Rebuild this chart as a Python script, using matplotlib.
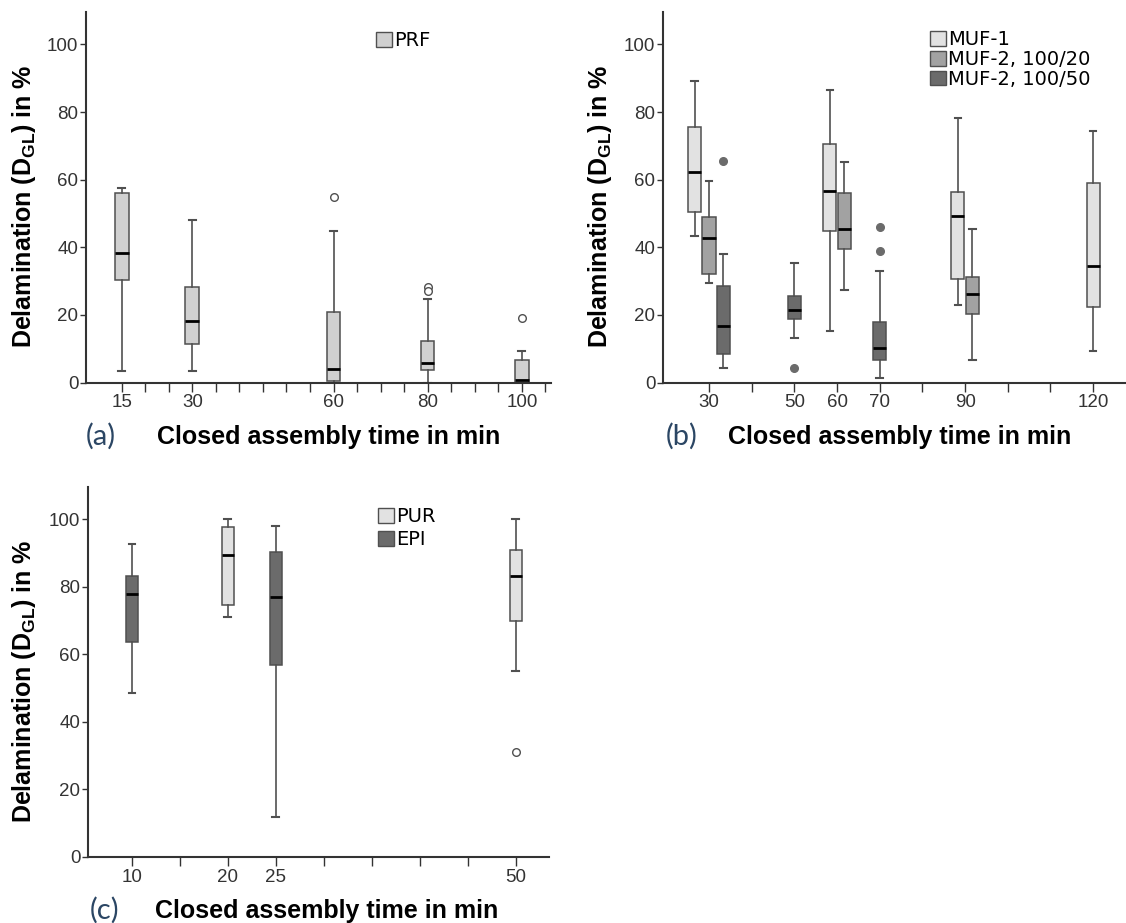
import numpy as np
import matplotlib
matplotlib.use("Agg")
import matplotlib.pyplot as plt
from matplotlib.patches import Patch

plt.rcParams["font.family"] = ["Liberation Sans", "DejaVu Sans"]
plt.rcParams["mathtext.fontset"] = "custom"
plt.rcParams["mathtext.bf"] = "Liberation Sans:bold"
plt.rcParams["mathtext.rm"] = "Liberation Sans"

# (a) PRF
prf_times = [15, 30, 60, 80, 100]
prf_whislo = [3.5, 3.3, 0.0, 0.0, 0.0]
prf_q1 = [30.3, 11.4, 0.3, 3.8, 0.0]
prf_med = [38.3, 18.1, 4.1, 5.8, 0.7]
prf_q3 = [56.0, 28.4, 20.8, 12.4, 6.6]
prf_whishi = [57.5, 48.1, 44.8, 24.8, 9.4]
prf_fliers = [[], [], [55.0], [28.3, 27.0], [19.2]]

# (b) MUF
muf1_times = [30, 60, 90, 120]
muf1_whislo = [43.3, 15.3, 23.0, 9.4]
muf1_q1 = [50.3, 44.7, 30.5, 22.4]
muf1_med = [62.2, 56.6, 49.4, 34.4]
muf1_q3 = [75.7, 70.7, 56.4, 58.9]
muf1_whishi = [89.3, 86.4, 78.3, 74.3]
muf1_fliers = [[], [], [], []]

muf20_times = [30, 60, 90]
muf20_whislo = [29.3, 27.3, 6.7]
muf20_q1 = [32.0, 39.4, 20.2]
muf20_med = [42.7, 45.5, 26.1]
muf20_q3 = [49.0, 56.0, 31.2]
muf20_whishi = [59.7, 65.1, 45.3]
muf20_fliers = [[], [], []]

muf50_times = [30, 50, 70]
muf50_whislo = [4.2, 13.3, 1.3]
muf50_q1 = [8.4, 18.7, 6.7]
muf50_med = [16.8, 21.4, 10.1]
muf50_q3 = [28.6, 25.7, 18.0]
muf50_whishi = [38.0, 35.3, 33.0]
muf50_fliers = [[65.4], [4.2], [46.0, 39.0]]

# (c) PUR / EPI
pur_times = [20, 50]
pur_whislo = [71.1, 55.1]
pur_q1 = [74.6, 70.0]
pur_med = [89.5, 83.2]
pur_q3 = [97.8, 91.0]
pur_whishi = [100.0, 100.0]
pur_fliers = [[], [31.1]]

epi_times = [10, 25]
epi_whislo = [48.5, 11.7]
epi_q1 = [63.7, 56.8]
epi_med = [77.9, 77.0]
epi_q3 = [83.3, 90.3]
epi_whishi = [92.7, 98.0]
epi_fliers = [[], []]

EDGE = "#505050"
AXC = "#333333"
LIGHT = "#e2e2e2"
PRF_C = "#d0d0d0"
MID = "#a2a2a2"
DARK = "#6b6b6b"

W, H = 1126, 923
fig = plt.figure(figsize=(W / 100, H / 100), dpi=100)


def px_axes(left, right, top, bottom):
    return fig.add_axes([left / W, 1 - bottom / H, (right - left) / W, (bottom - top) / H])


def make_stats(whislo, q1, med, q3, whishi, fliers):
    return [dict(whislo=a, q1=b, med=c, q3=d, whishi=e, fliers=np.array(f))
            for a, b, c, d, e, f in zip(whislo, q1, med, q3, whishi, fliers)]


def draw(ax, stats, pos, width, cap, color, filled_fliers=False):
    ax.bxp(stats, positions=pos, widths=width, capwidths=cap, patch_artist=True,
           manage_ticks=False,
           boxprops=dict(facecolor=color, edgecolor=EDGE, linewidth=1.1),
           medianprops=dict(color="black", linewidth=2.0, solid_capstyle="butt"),
           whiskerprops=dict(color=EDGE, linewidth=1.2),
           capprops=dict(color=EDGE, linewidth=1.5),
           flierprops=dict(marker="o", markersize=5.5,
                           markerfacecolor=color if filled_fliers else "white",
                           markeredgecolor=color if filled_fliers else EDGE,
                           markeredgewidth=1.0))


def style(ax, xlim, ticks, labelled):
    ax.set_xlim(*xlim)
    ax.set_ylim(0, 109.7)
    for s in ("top", "right"):
        ax.spines[s].set_visible(False)
    for s in ("left", "bottom"):
        ax.spines[s].set_color(AXC)
        ax.spines[s].set_linewidth(1.5)
    ax.set_yticks([0, 20, 40, 60, 80, 100])
    ax.set_xticks(ticks)
    ax.set_xticklabels([str(t) if t in labelled else "" for t in ticks])
    ax.tick_params(axis="y", direction="out", length=4, width=1.0, color=AXC,
                   labelsize=13.5, labelcolor=AXC, pad=1.5)
    ax.tick_params(axis="x", direction="out", length=6.5, width=1.0, color=AXC,
                   labelsize=13.5, labelcolor=AXC, pad=2)


def legend(ax, labels, colors, x, y, spacing):
    handles = [Patch(facecolor=c, edgecolor=EDGE, linewidth=1.0) for c in colors]
    ax.legend(handles, labels, loc="upper left", bbox_to_anchor=(x, y), frameon=False,
              borderpad=0, borderaxespad=0, handlelength=0.8, handleheight=0.8,
              handletextpad=0.12, labelspacing=spacing,
              prop=dict(family="DejaVu Sans", size=14))


def grouped_positions(series_times, spacing):
    # boxes at the same time sit side by side, centred on the tick
    out = [[] for _ in series_times]
    all_t = sorted(set(t for ts in series_times for t in ts))
    for t in all_t:
        present = [i for i, ts in enumerate(series_times) if t in ts]
        n = len(present)
        for k, i in enumerate(present):
            out[i].append(t + (k - (n - 1) / 2) * spacing)
    return out


ylabel = r"Delamination (D$_{\mathbf{GL}}$) in %"
xlabel = "Closed assembly time in min"
lab_font = dict(fontsize=18, fontweight="bold", color="black")
tag_font = dict(fontsize=21, family=["Lato", "DejaVu Sans"], color="#2b4664")

# (a)
ax_a = px_axes(86, 551, 11.7, 382.5)
draw(ax_a, make_stats(prf_whislo, prf_q1, prf_med, prf_q3, prf_whishi, prf_fliers),
     prf_times, 2.9, 1.5, PRF_C)
style(ax_a, (7.42, 106.2), list(range(15, 106, 5)), prf_times)
legend(ax_a, ["PRF"], [PRF_C], 0.624, 0.948, 0.0)

# (b)
ax_b = px_axes(663, 1126, 11.7, 382.5)
pos1, pos20, pos50 = grouped_positions([muf1_times, muf20_times, muf50_times], 3.38)
draw(ax_b, make_stats(muf1_whislo, muf1_q1, muf1_med, muf1_q3, muf1_whishi, muf1_fliers),
     pos1, 3.1, 1.55, LIGHT)
draw(ax_b, make_stats(muf20_whislo, muf20_q1, muf20_med, muf20_q3, muf20_whishi, muf20_fliers),
     pos20, 3.1, 1.55, MID)
draw(ax_b, make_stats(muf50_whislo, muf50_q1, muf50_med, muf50_q3, muf50_whishi, muf50_fliers),
     pos50, 3.1, 1.55, DARK, filled_fliers=True)
style(ax_b, (19.23, 127.7), list(range(30, 121, 10)), muf1_times + muf20_times + muf50_times)
legend(ax_b, ["MUF-1", "MUF-2, 100/20", "MUF-2, 100/50"], [LIGHT, MID, DARK],
       0.577, 0.951, 0.05)

# (c)
ax_c = px_axes(88, 549, 486.7, 856.7)
draw(ax_c, make_stats(pur_whislo, pur_q1, pur_med, pur_q3, pur_whishi, pur_fliers),
     pur_times, 1.25, 0.72, LIGHT)
draw(ax_c, make_stats(epi_whislo, epi_q1, epi_med, epi_q3, epi_whishi, epi_fliers),
     epi_times, 1.25, 0.72, DARK)
style(ax_c, (5.41, 53.47), list(range(10, 51, 5)), pur_times + epi_times)
legend(ax_c, ["PUR", "EPI"], [LIGHT, DARK], 0.629, 0.945, 0.2)

# axis titles and panel tags, placed in figure pixels
for x, y in [(24, 206), (600, 206), (24, 681)]:
    fig.text(x / W, 1 - y / H, ylabel, rotation=90, ha="center", va="center", **lab_font)
for x, y in [(329, 437), (900, 437), (327, 911)]:
    fig.text(x / W, 1 - y / H, xlabel, ha="center", va="center", **lab_font)
for s, x, y in [("(a)", 101, 436), ("(b)", 682, 436), ("(c)", 105, 910)]:
    fig.text(x / W, 1 - y / H, s, ha="center", va="center", **tag_font)

fig.savefig("out.png", dpi=100)
